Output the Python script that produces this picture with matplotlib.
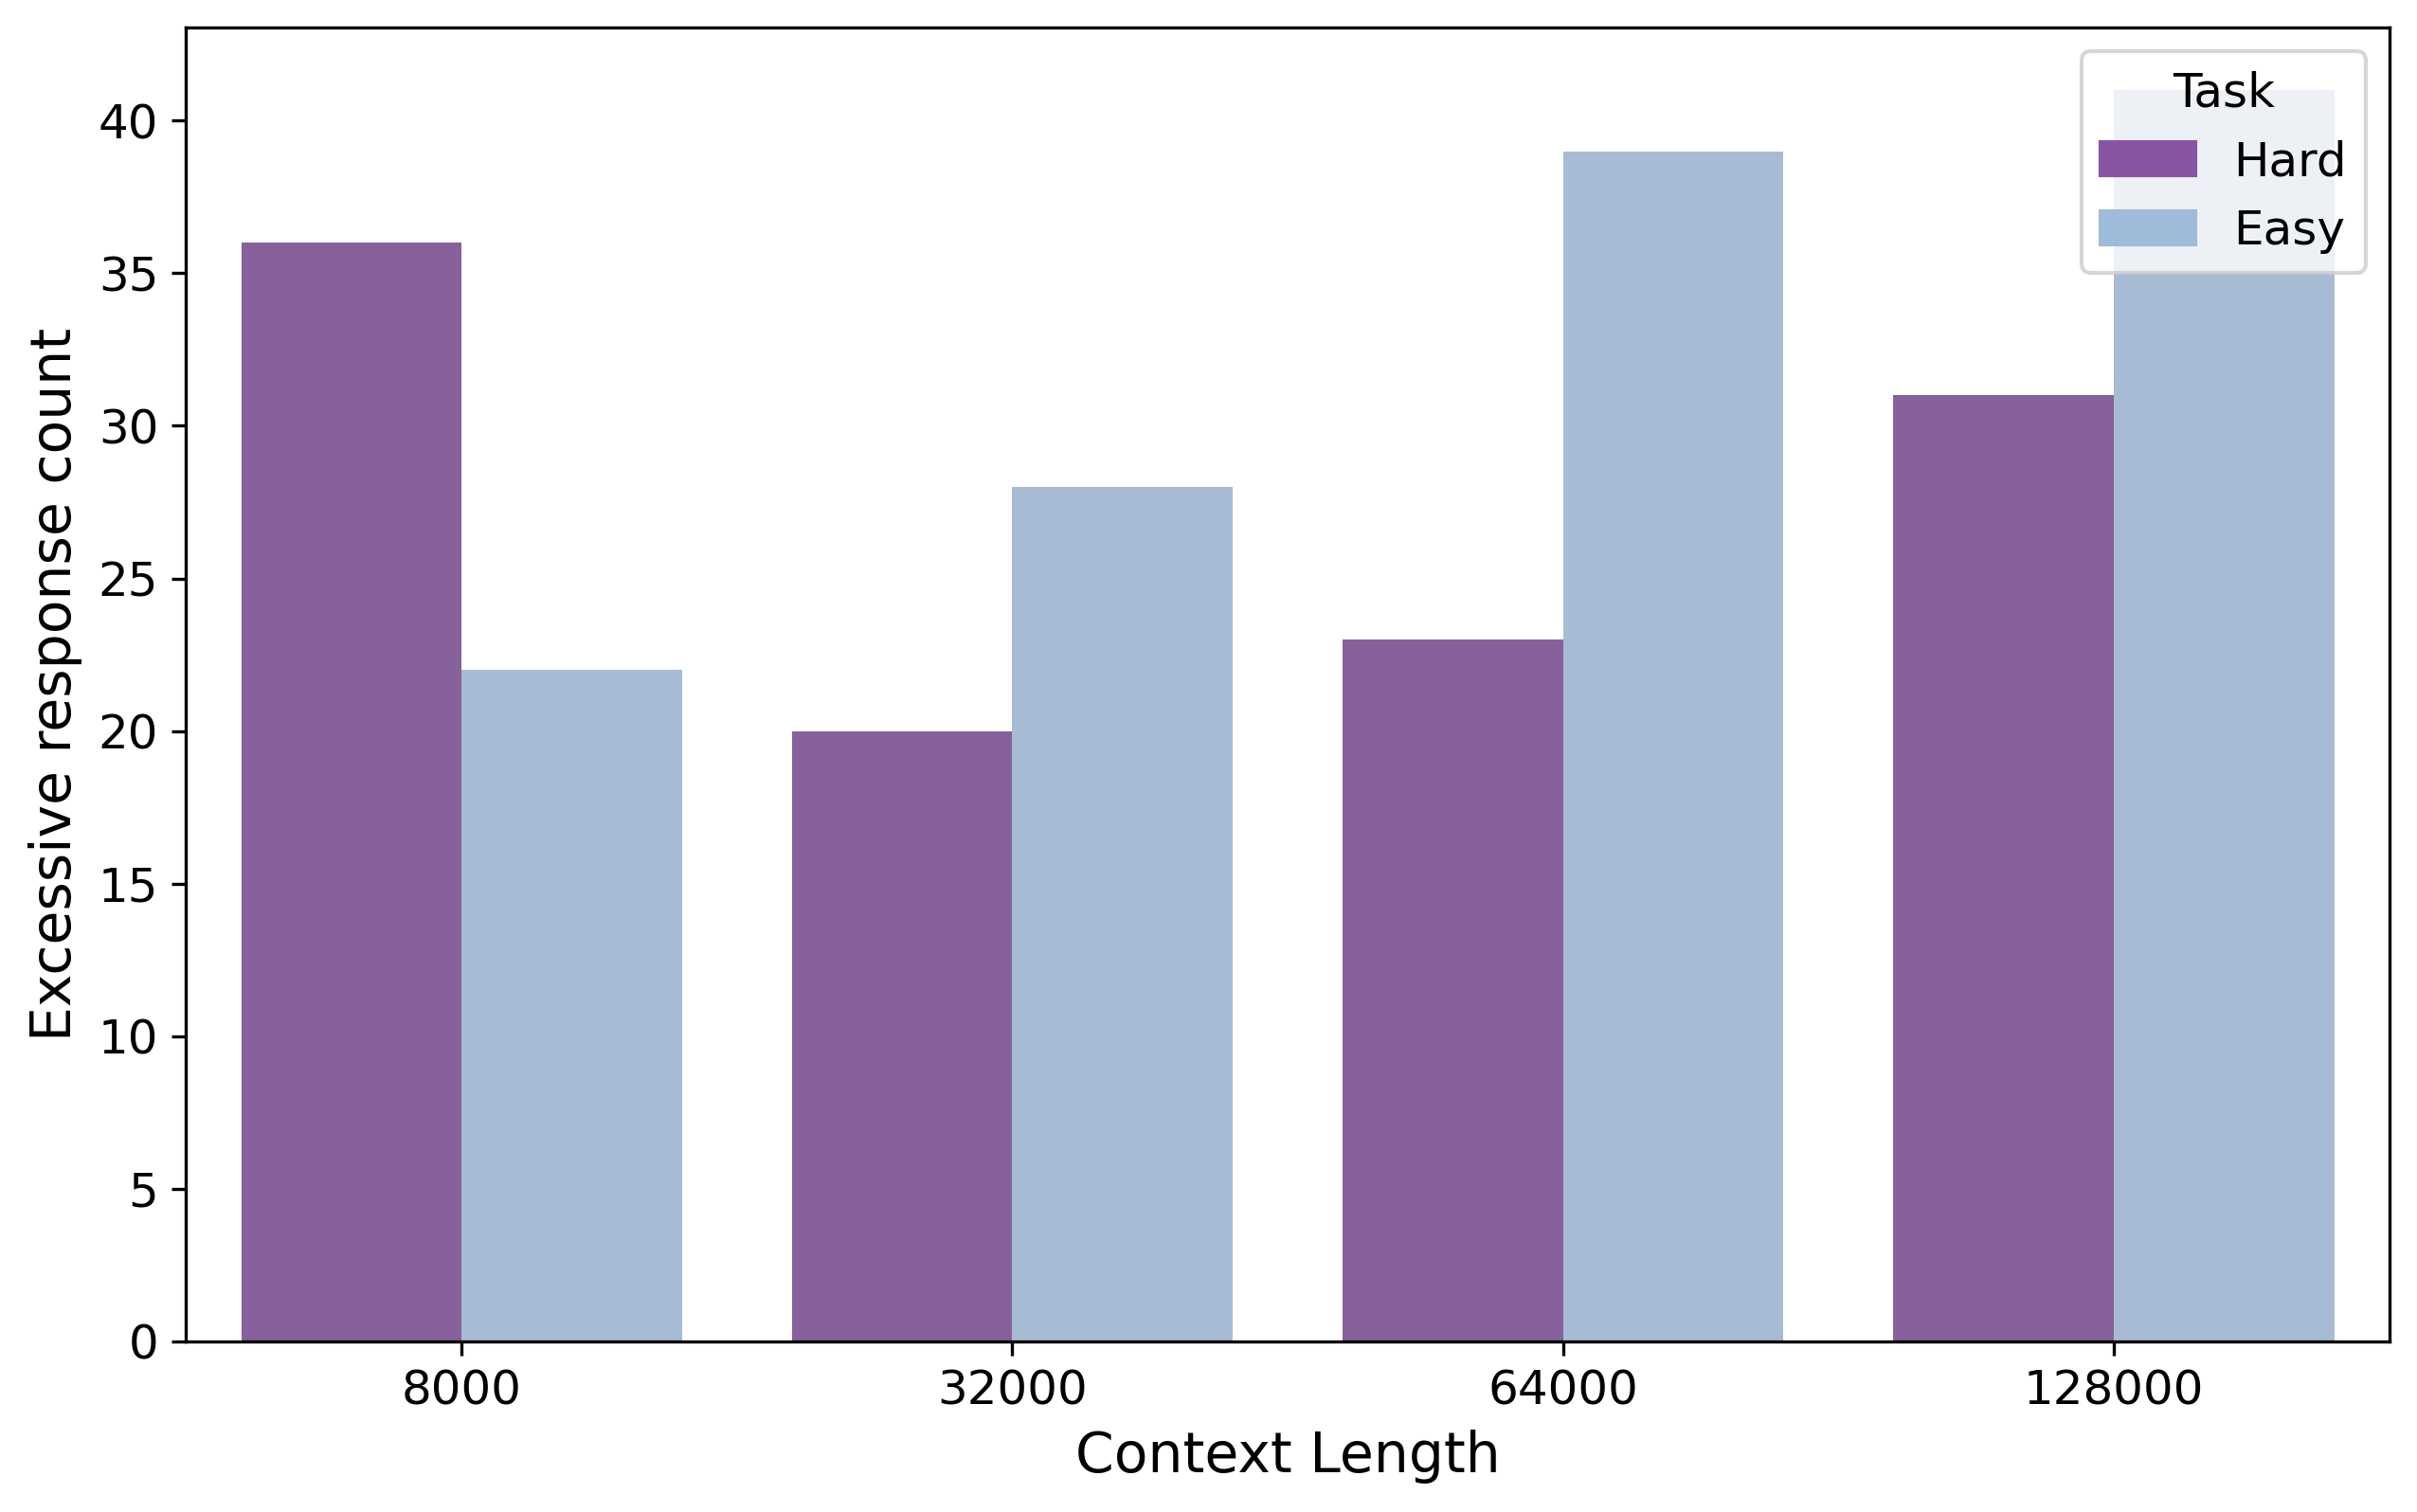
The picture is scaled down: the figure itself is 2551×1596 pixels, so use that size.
import matplotlib
matplotlib.use("Agg")
import matplotlib.pyplot as plt
import numpy as np
from matplotlib.patches import Patch

categories = ["8000", "32000", "64000", "128000"]
tasks = ["Hard", "Easy"]
hard = [36, 20, 23, 31]
easy = [22, 28, 39, 41]

bar_colors = {"Hard": "#87619b", "Easy": "#a7bcd4"}
legend_colors = {"Hard": "#8855a3", "Easy": "#9ebbd9"}

fig = plt.figure(figsize=(2551/300, 1596/300), dpi=300)
ax = fig.add_axes([0.0770, 0.113, 0.9115, 0.8687])

x = np.arange(len(categories))
w = 0.4
ax.bar(x - w/2, hard, width=w, color=bar_colors["Hard"], label="Hard")
ax.bar(x + w/2, easy, width=w, color=bar_colors["Easy"], label="Easy")

ax.set_xticks(x)
ax.set_xticklabels(categories, fontsize=12)
ax.tick_params(axis="y", labelsize=12)
ax.set_xlim(-0.5, len(categories) - 0.5)
ax.set_xlabel("Context Length", fontsize=14)
ax.set_ylabel("Excessive response count", fontsize=14)

handles = [Patch(color=legend_colors[t], label=t) for t in tasks]
ax.legend(handles=handles, title="Task", fontsize=12, title_fontsize=12, loc="upper right")

fig.savefig("out.png", dpi=300)
